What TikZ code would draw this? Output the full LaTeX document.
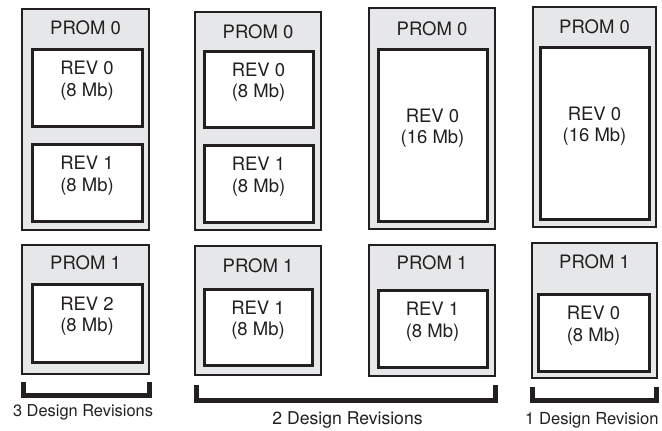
\documentclass[tikz,border=0pt]{standalone}
\usepackage{fontspec}
\setmainfont{TeX Gyre Heros}
\usetikzlibrary{fit}
\definecolor{promfill}{HTML}{E6E7E8}
\definecolor{ink}{HTML}{231F20}
\begin{document}
\begin{tikzpicture}[x=1pt,y=-1pt,
  prom/.style={draw=ink, line width=2pt, fill=promfill, rectangle, inner sep=0pt},
  rev/.style={draw=ink, line width=3pt, fill=white, rectangle, inner sep=0pt, align=center,
    font=\fontsize{18.5}{21.5}\selectfont, text=ink},
  plabel/.style={font=\fontsize{18.5}{21.5}\selectfont, text=ink, inner sep=0pt},
  caption/.style={text=ink, inner sep=0pt},
  bracket/.style={draw=ink, line width=5pt, line join=miter, line cap=butt}]
\useasboundingbox (0,0) rectangle (662,431);
% Column 1
\node[prom, fit={(22,9) (149,230)}] (c1p0) {};
\node[plabel] (c1p0t) at (85.5,28) {PROM 0};
\node[rev, fit={(32,49) (142,126)}] (c1r0) {REV 0\\(8 Mb)};
\node[rev, fit={(32,144) (142,221)}] (c1r1) {REV 1\\(8 Mb)};
\node[prom, fit={(22,245) (149,374)}] (c1p1) {};
\node[plabel] (c1p1t) at (85.5,263) {PROM 1};
\node[rev, fit={(32,284) (142,362)}] (c1r2) {REV 2\\(8 Mb)};
% Column 2
\node[prom, fit={(195,12) (321,230)}] (c2p0) {};
\node[plabel] (c2p0t) at (258,32) {PROM 0};
\node[rev, fit={(204,51) (313,127)}] (c2r0) {REV 0\\(8 Mb)};
\node[rev, fit={(204,145) (313,222)}] (c2r1) {REV 1\\(8 Mb)};
\node[prom, fit={(195,246) (321,375)}] (c2p1) {};
\node[plabel] (c2p1t) at (258,266) {PROM 1};
\node[rev, fit={(204,289) (312,365)}] (c2r1b) {REV 1\\(8 Mb)};
% Column 3
\node[prom, fit={(369,8) (495,229)}] (c3p0) {};
\node[plabel] (c3p0t) at (432,29) {PROM 0};
\node[rev, fit={(378,49) (487,221)}] (c3r0) {REV 0\\(16 Mb)};
\node[prom, fit={(369,245) (495,376)}] (c3p1) {};
\node[plabel] (c3p1t) at (432,263) {PROM 1};
\node[rev, fit={(378,290) (487,367)}] (c3r1) {REV 1\\(8 Mb)};
% Column 4
\node[prom, fit={(533,7) (656,227)}] (c4p0) {};
\node[plabel] (c4p0t) at (594.5,27) {PROM 0};
\node[rev, fit={(540,47) (649,219)}] (c4r0) {REV 0\\(16 Mb)};
\node[prom, fit={(532,243) (657,378)}] (c4p1) {};
\node[plabel] (c4p1t) at (594.5,262) {PROM 1};
\node[rev, fit={(538,294) (649,371)}] (c4r0b) {REV 0\\(8 Mb)};
% Brackets
\draw[bracket] (23.5,382) -- (23.5,395.5) -- (149,395.5) -- (149,382);
\draw[bracket] (196,385) -- (196,400.5) -- (495,400.5) -- (495,385);
\draw[bracket] (532,387) -- (532,400.5) -- (656,400.5) -- (656,387);
\node[caption, font=\fontsize{16.4}{18}\selectfont] (l1) at (83,412) {3 Design Revisions};
\node[caption, font=\fontsize{17.6}{19}\selectfont] (l2) at (347.5,420) {2 Design Revisions};
\node[caption, font=\fontsize{16.6}{19}\selectfont, anchor=west] (l3) at (525,420) {1 Design Revision};
\end{tikzpicture}
\end{document}
